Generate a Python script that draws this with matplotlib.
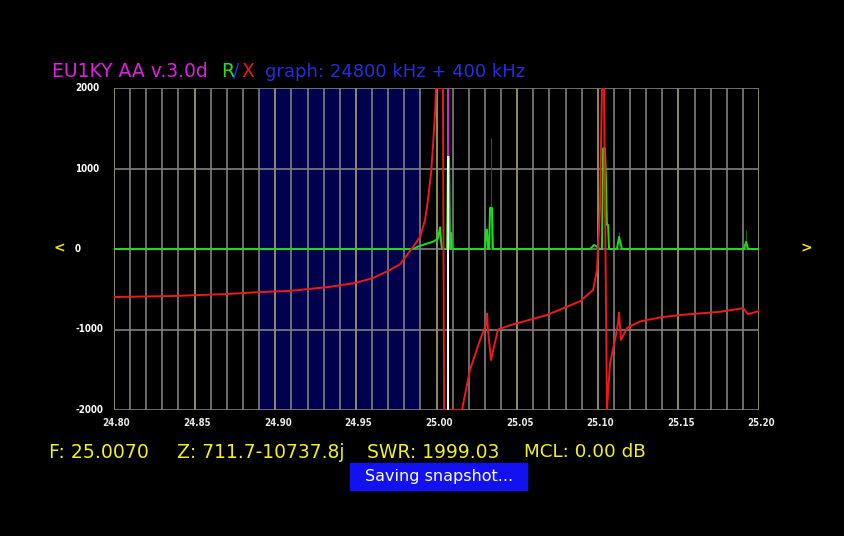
import numpy as np
import matplotlib.pyplot as plt

# sweep: 24800 kHz + 400 kHz, values in MHz
f_start, f_span = 24.80, 0.40
x_ticks = [24.80, 24.85, 24.90, 24.95, 25.00, 25.05, 25.10, 25.15, 25.20]
x_tick_labels = ['24.80', '24.85', '24.90', '24.95', '25.00', '25.05', '25.10', '25.15', '25.20']
y_ticks = [2000, 1000, 0, -1000, -2000]
highlight_band = [24.89, 24.99]
cursor_freq = 25.0070
cursor_r = 1150

# reactance X (red)
x_freq = [24.8000, 24.8347, 24.8695, 24.8905, 24.9091, 24.9340, 24.9501, 24.9606,
          24.9712, 24.9774, 24.9854, 24.9898, 24.9929, 24.9947, 24.9966, 24.9978,
          24.9991, 24.9997, 25.0040, 25.0047, 25.0158, 25.0208, 25.0270, 25.0307,
          25.0313, 25.0319, 25.0338, 25.0381, 25.0468, 25.0685, 25.0890, 25.0971,
          25.0995, 25.1014, 25.1026, 25.1039, 25.1057, 25.1076, 25.1107, 25.1126,
          25.1132, 25.1144, 25.1182, 25.1262, 25.1386, 25.1510, 25.1758, 25.1901,
          25.1932, 25.2000]
x_vals = [-596, -585, -560, -535, -520, -470, -420, -360,
          -260, -190, 25, 150, 360, 610, 940, 1270,
          1690, 2000, 2000, -2000, -2000, -1500, -1130, -940,
          -800, -1000, -1380, -1000, -940, -820, -650, -510,
          -260, 500, 2000, 2000, -2000, -1420, -1130, -920,
          -790, -1130, -980, -900, -850, -820, -780, -735,
          -810, -770]

# resistance R (green)
r_freq = [24.8000, 24.9854, 24.9885, 24.9929, 24.9978, 25.0009, 25.0022, 25.0028,
          25.0034, 25.0065, 25.0071, 25.0078, 25.0084, 25.0090, 25.0096, 25.0301,
          25.0307, 25.0313, 25.0319, 25.0326, 25.0332, 25.0344, 25.0350, 25.0952,
          25.0977, 25.1014, 25.1026, 25.1033, 25.1045, 25.1051, 25.1057, 25.1064,
          25.1070, 25.1119, 25.1132, 25.1144, 25.1150, 25.1907, 25.1920, 25.1932,
          25.2000]
r_vals = [0, 0, 30, 60, 90, 130, 270, 100,
          0, 0, 1150, 1150, 0, 200, 0, 0,
          240, 240, 0, 0, 510, 510, 0, 0,
          50, 0, 0, 1250, 1250, 860, 300, 300,
          0, 0, 150, 50, 0, 0, 90, 0,
          0]

# faint spikes of the previous sweep
ghost_freq = [25.0338, 25.1132, 25.1920]
ghost_top = [1380, 210, 240]

W, H = 844, 536
fig = plt.figure(figsize=(W / 100, H / 100), dpi=100, facecolor='black')
ax = fig.add_axes([114 / W, 1 - 410 / H, 645 / W, 322 / H], facecolor='black')
ax.set_xlim(f_start, f_start + f_span)
ax.set_ylim(-2000, 2000)

ax.axvspan(*highlight_band, color='#00004c', lw=0, zorder=0)

# grid: 10 kHz minor, 50 kHz major
for i in range(41):
    f = f_start + i * 0.01
    major = i % 5 == 0
    ax.axvline(f, color='#aaa272' if major else '#808080', lw=1.2, zorder=1)
for v in y_ticks:
    ax.axhline(v, color='#808080', lw=1.2, zorder=1)

ax.vlines(ghost_freq, 0, ghost_top, color='#0a6a0a', lw=0.8, zorder=2)
ax.vlines([25.1039], 400, 2000, color='#7a0a0a', lw=1.0, zorder=2)

ax.plot(r_freq, r_vals, color='#18e018', lw=1.4, zorder=3)
ax.plot(x_freq, x_vals, color='#f01818', lw=1.4, zorder=4)

# cursor marker
ax.vlines([cursor_freq], -2000, cursor_r, color='white', lw=1.4, zorder=5)
ax.vlines([cursor_freq], cursor_r, 2000, color='#e020e0', lw=1.4, zorder=5)

for s in ax.spines.values():
    s.set_visible(False)
ax.set_xticks([])
ax.set_yticks([])


def px(x, y, s, color, **kw):
    fig.text(x / W, 1 - y / H, s, color=color, va='center', **kw)


# tick labels
tick_font = dict(fontsize=7, fontweight='bold', fontstretch='condensed')
for v in y_ticks:
    py = 88 + (2000 - v) / 4000 * 322
    px(75, py, str(v), 'white', ha='left', **tick_font)
for f, lab in zip(x_ticks, x_tick_labels):
    fx = 114 + (f - f_start) / f_span * 645 + 2.5
    px(fx, 423, lab, '#e8e8e8', ha='center', **tick_font)

# header
px(52, 72, 'EU1KY AA v.3.0d', '#e020e0', fontsize=13.5)
px(221, 72, 'R', '#20e020', fontsize=13.5)
px(233, 72, '/', '#2a2ae0', fontsize=13.5)
px(241, 72, 'X', '#f01818', fontsize=13.5)
px(265, 72, 'graph: 24800 kHz + 400 kHz', '#2a2ae0', fontsize=13)

px(54, 248, '<', '#f0e020', fontsize=10, ha='left', fontweight='bold')
px(800, 248, '>', '#f0e020', fontsize=10, ha='left', fontweight='bold')

# status line
px(49, 452, 'F: 25.0070', '#f0f020', fontsize=13.6)
px(177, 452, 'Z: 711.7-10737.8j', '#f0f020', fontsize=13.5)
px(367, 452, 'SWR: 1999.03', '#f0f020', fontsize=13.5)
px(524, 452, 'MCL: 0.00 dB', '#f0f020', fontsize=13.2)

fig.patches.append(plt.Rectangle((350 / W, 1 - 490 / H), 177 / W, 27 / H,
                                 transform=fig.transFigure, color='#1212f0'))
px(439, 477, 'Saving snapshot...', 'white', fontsize=11.5, ha='center')

fig.savefig('out.png', dpi=100, facecolor='black')
